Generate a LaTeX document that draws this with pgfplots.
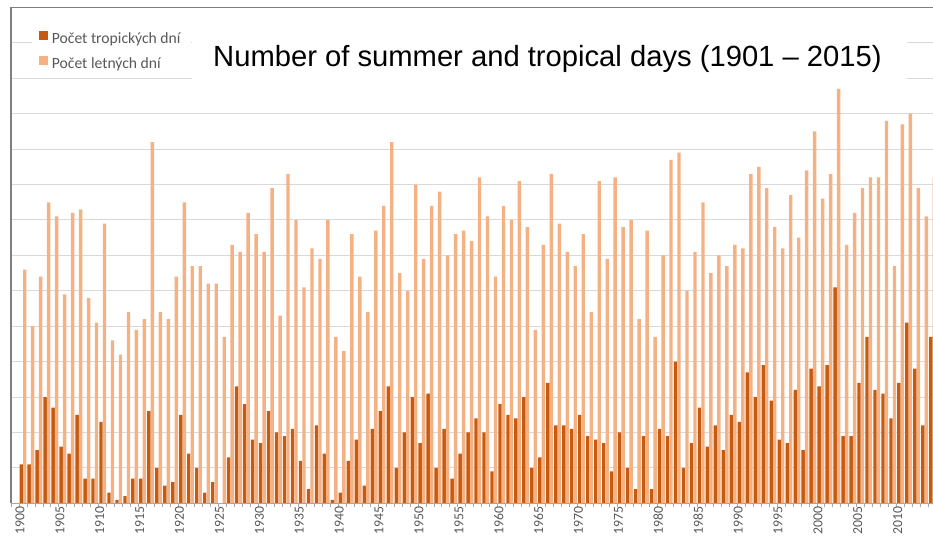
\documentclass[border=0pt]{standalone}
\usepackage{pgfplots}
\usepackage{pgfplotstable}
\pgfplotsset{compat=1.18}
\usepackage{fontspec}
\setmainfont{Carlito}
\newfontfamily\arialfont{Liberation Sans}
\definecolor{darkor}{HTML}{C55A11}
\definecolor{lightor}{HTML}{F4B183}
\definecolor{gridc}{HTML}{D9D9D9}
\definecolor{txtgray}{HTML}{595959}
\definecolor{axgray}{HTML}{7F7F7F}
\definecolor{basegray}{HTML}{A6A6A6}

\pgfplotstableread{
year trop summer
1901 11 66
1902 11 50
1903 15 64
1904 30 85
1905 27 81
1906 16 59
1907 14 82
1908 25 83
1909 7 58
1910 7 51
1911 23 79
1912 3 46
1913 1 42
1914 2 54
1915 7 49
1916 7 52
1917 26 102
1918 10 54
1919 5 52
1920 6 64
1921 25 85
1922 14 67
1923 10 67
1924 3 62
1925 6 62
1926 0 47
1927 13 73
1928 33 71
1929 28 82
1930 18 76
1931 17 71
1932 26 89
1933 20 53
1934 19 93
1935 21 80
1936 12 61
1937 4 72
1938 22 69
1939 14 80
1940 1 47
1941 3 43
1942 12 76
1943 18 64
1944 5 54
1945 21 77
1946 26 84
1947 33 102
1948 10 65
1949 20 60
1950 30 90
1951 17 69
1952 31 84
1953 10 88
1954 21 70
1955 7 76
1956 14 77
1957 20 74
1958 24 92
1959 20 81
1960 9 64
1961 28 84
1962 25 80
1963 24 91
1964 30 78
1965 10 49
1966 13 73
1967 34 93
1968 22 79
1969 22 71
1970 21 67
1971 25 76
1972 19 54
1973 18 91
1974 17 69
1975 9 92
1976 20 78
1977 10 80
1978 4 52
1979 19 77
1980 4 47
1981 21 70
1982 19 97
1983 40 99
1984 10 60
1985 17 71
1986 27 85
1987 16 65
1988 22 70
1989 15 67
1990 25 73
1991 23 72
1992 37 93
1993 30 95
1994 39 89
1995 29 78
1996 18 72
1997 17 87
1998 32 75
1999 15 94
2000 38 105
2001 33 86
2002 39 93
2003 61 117
2004 19 73
2005 19 82
2006 34 89
2007 47 92
2008 32 92
2009 31 108
2010 24 67
2011 34 107
2012 51 110
2013 38 89
2014 22 81
2015 47 92
}\data

\begin{document}
\begin{tikzpicture}
\begin{axis}[
  name=ax,
  scale only axis,
  width=922bp, height=495.8bp,
  xmin=1899.5, xmax=2015.05,
  ymin=0, ymax=140,
  axis line style={draw=none},
  ytick={0,10,...,140},
  yticklabels={},
  ymajorgrids,
  major grid style={gridc, line width=1bp},
  xtick={1900,1905,...,2015},
  minor xtick={1899.5,1900.5,...,2015.5},
  major tick length=0pt,
  minor tick length=4bp,
  tick align=outside,
  tick pos=left,
  minor tick style={basegray, line width=0.8bp},
  /pgf/number format/assume math mode=true,
  /pgf/number format/1000 sep={},
  xticklabel style={rotate=90, anchor=east, yshift=-5bp,
     font=\fontsize{13.8}{14}\selectfont, text=txtgray},
  legend cell align=left,
  legend style={at={(0,1)}, anchor=north west, xshift=21bp, yshift=-20.5bp,
     draw=none, fill=white, inner xsep=6.7bp, inner ysep=2bp,
     font=\fontsize{15.7}{17}\selectfont, text=txtgray,
     row sep=6.5bp,
     nodes={inner xsep=3.7bp, inner ysep=2bp, text height=11bp, text depth=3.5bp}},
]
\addplot[ybar, bar width=3.4bp, bar shift=-1.75bp, fill=darkor, draw=none,
  legend image code/.code={\fill[darkor] (0bp,-0.5bp) rectangle (9.3bp,8.8bp);}]
  table[x=year, y=trop]{\data};
\addlegendentry{Počet tropických dní}
\addplot[ybar, bar width=3.4bp, bar shift=1.75bp, fill=lightor, draw=none,
  legend image code/.code={\fill[lightor] (0bp,-0.5bp) rectangle (9.3bp,8.8bp);}]
  table[x=year, y=summer]{\data};
\addlegendentry{Počet letných dní}
\end{axis}
\draw[basegray, line width=1bp] (ax.south west) -- (ax.south east);
\draw[axgray, line width=1.2bp] (ax.south west) -- (ax.north west) -- (ax.north east);
\fill[white] ([xshift=181bp,yshift=-17.5bp]ax.north west) rectangle ([xshift=896bp,yshift=-76.5bp]ax.north west);
\node[anchor=base west, inner sep=0pt, font=\arialfont\fontsize{29.3}{31}\selectfont]
  at ([xshift=202bp,yshift=-59.2bp]ax.north west) {Number of summer and tropical days (1901 – 2015)};
\pgfresetboundingbox
\path ([xshift=-11bp,yshift=-44bp]ax.south west) rectangle ([yshift=7.5bp]ax.north east);
\end{tikzpicture}
\end{document}
